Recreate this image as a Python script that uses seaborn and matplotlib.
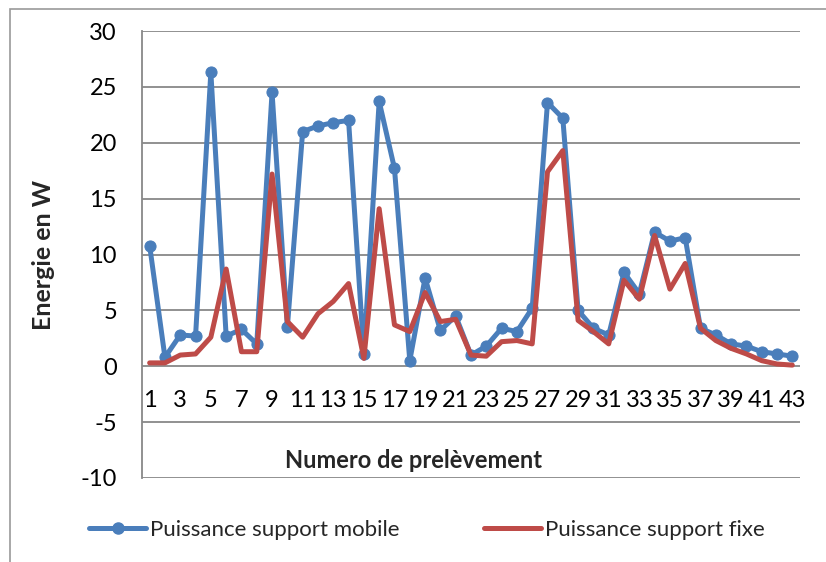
import numpy as np
import pandas as pd
import seaborn as sns
import matplotlib.pyplot as plt
from matplotlib.patches import Rectangle
from matplotlib.lines import Line2D

numero = list(range(1, 44))
mobile = [10.8, 0.8, 2.8, 2.7, 26.3, 2.7, 3.3, 2.0, 24.5, 3.5,
          21.0, 21.5, 21.8, 22.0, 1.1, 23.7, 17.7, 0.5, 7.9, 3.2,
          4.5, 1.0, 1.8, 3.4, 3.1, 5.2, 23.6, 22.2, 5.0, 3.4,
          2.8, 8.4, 6.5, 12.0, 11.2, 11.5, 3.4, 2.8, 2.0, 1.8,
          1.3, 1.1, 0.9]
fixe = [0.3, 0.3, 1.0, 1.1, 2.6, 8.7, 1.3, 1.3, 17.2, 4.0,
        2.6, 4.7, 5.8, 7.4, 0.7, 14.1, 3.7, 3.1, 6.6, 4.0,
        4.2, 1.0, 0.9, 2.2, 2.3, 2.0, 17.4, 19.3, 4.1, 3.1,
        2.0, 7.7, 6.0, 11.7, 6.9, 9.2, 3.4, 2.3, 1.6, 1.1,
        0.5, 0.2, 0.1]
y_ticks = [-10, -5, 0, 5, 10, 15, 20, 25, 30]
x_ticks = list(range(1, 44, 2))

df = pd.DataFrame({"numero": numero, "mobile": mobile, "fixe": fixe})

sns.set_style("white")
plt.rcParams['font.family'] = ['Lato', 'DejaVu Sans']
plt.rcParams['axes.unicode_minus'] = False

blue = "#4a7ebb"
red = "#be4b48"
grid = "#888888"

fig = plt.figure(figsize=(8.26, 5.62), dpi=100)
ax = fig.add_axes([0.1719, 0.1495, 0.7966, 0.7953])

sns.lineplot(data=df, x="numero", y="mobile", ax=ax, color=blue, lw=3.6,
             marker="o", markersize=8, markeredgecolor=blue)
sns.lineplot(data=df, x="numero", y="fixe", ax=ax, color=red, lw=3.6)

ax.set_xlim(0.5, 43.5)
ax.set_ylim(-10, 30)
ax.set_yticks(y_ticks)
ax.set_xticks(x_ticks)
ax.set_xticklabels([str(v) for v in x_ticks])
ax.yaxis.grid(True, color=grid, lw=1.3)
ax.set_axisbelow(True)

for s in ["top", "right"]:
    ax.spines[s].set_visible(False)
ax.spines["bottom"].set_position(("data", 0))
ax.spines["bottom"].set_visible(False)
ax.spines["left"].set_color(grid)
ax.spines["left"].set_linewidth(1.3)

ax.tick_params(axis="y", labelsize=17, length=0, pad=18, colors="black")
ax.tick_params(axis="x", labelsize=17, length=0, pad=17, colors="black")

ax.set_xlabel("")
ax.set_ylabel("Energie en W", fontsize=18, fontweight="bold")
ax.yaxis.set_label_coords(-0.132, 0.5)
ax.text(0.412, 0.040, "Numero de prelèvement", transform=ax.transAxes,
        ha="center", va="center", fontsize=17, fontweight="bold")

handles = [Line2D([], [], color=blue, lw=3.6, marker="o", markersize=8),
           Line2D([], [], color=red, lw=3.6)]
fig.legend(handles, ["Puissance support mobile", "Puissance support fixe"],
           loc="center", bbox_to_anchor=(0.517, 0.057), ncol=2, frameon=False,
           fontsize=16, handlelength=2.56, handletextpad=0.18, columnspacing=3.8)

fig.patches.append(Rectangle((10 / 826, -0.1), 1.2, 1 - 9 / 562 + 0.1,
                             transform=fig.transFigure, fill=False,
                             edgecolor="#9a9a9a", lw=1.2))

fig.savefig("out.png", dpi=100)
